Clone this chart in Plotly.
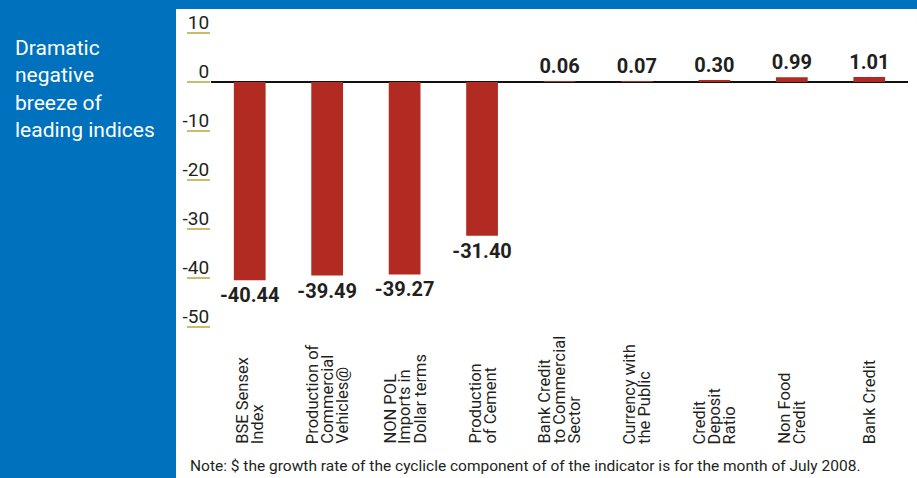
import plotly.graph_objects as go

categories = [
    "BSE Sensex<br>Index",
    "Production of<br>Commercial<br>Vehicles@",
    "NON POL<br>Imports in<br>Dollar terms",
    "Production<br>of Cement",
    "Bank Credit<br>to Commercial<br>Sector",
    "Currency with<br>the Public",
    "Credit<br>Deposit<br>Ratio",
    "Non Food<br>Credit",
    "Bank Credit",
]
values = [-40.44, -39.49, -39.27, -31.40, 0.06, 0.07, 0.30, 0.99, 1.01]
value_labels = ["-40.44", "-39.49", "-39.27", "-31.40", "0.06", "0.07", "0.30", "0.99", "1.01"]
y_ticks = [10, 0, -10, -20, -30, -40, -50]
title_text = "Dramatic<br>negative<br>breeze of<br>leading indices"
note_text = "Note: $ the growth rate of the cyclicle component of of the indicator is for the month of July 2008."

BLUE = "#0071BC"
RED = "#B22B22"
GOLD = "#CDBA6A"
DARK = "#231F20"
FONT = "Roboto, 'DejaVu Sans', sans-serif"

x_idx = list(range(len(categories)))

fig = go.Figure()
fig.add_trace(go.Bar(
    x=x_idx, y=values,
    marker=dict(color=RED, line=dict(width=0)),
    text=value_labels, textposition="outside", constraintext="none",
    textfont=dict(family=FONT, size=20, color=DARK, weight="bold"),
    cliponaxis=False, hoverinfo="skip",
))

annotations = []
# category labels, rotated, bottom aligned
line_gap = 15
for i, cat in enumerate(categories):
    lines = cat.split("<br>")
    n = len(lines)
    for j, ln in enumerate(lines):
        annotations.append(dict(
            x=i, xref="x", y=-0.321, yref="paper",
            text=ln, showarrow=False, textangle=-90,
            xanchor="center", yanchor="bottom",
            xshift=(j - (n - 1) / 2) * line_gap,
            font=dict(family=FONT, size=16.5, color=DARK),
        ))

annotations.append(dict(
    x=-0.2845, xref="paper", y=0.9506, yref="paper",
    text=title_text, showarrow=False, align="left",
    xanchor="left", yanchor="top",
    font=dict(family=FONT, size=21, color="white"),
))
annotations.append(dict(
    x=-0.033, xref="paper", y=-0.3827, yref="paper",
    text=note_text, showarrow=False, align="left",
    xanchor="left", yanchor="middle",
    font=dict(family=FONT, size=15.5, color=DARK),
))

fig.update_layout(
    width=917, height=478,
    margin=dict(l=211, r=9, t=18, b=136, pad=0),
    paper_bgcolor=BLUE, plot_bgcolor="rgba(0,0,0,0)",
    showlegend=False,
    bargap=0.59,
    annotations=annotations,
    shapes=[dict(type="rect", xref="paper", yref="paper",
                 x0=-0.05022, x1=1.01291, y0=-0.4198, y1=1.0278,
                 fillcolor="white", line=dict(width=0), layer="below")],
    xaxis=dict(
        range=[-0.5, len(categories) - 0.5],
        showticklabels=False, showgrid=False, zeroline=False,
        showline=False, ticks="",
    ),
    yaxis=dict(
        range=[-53.06, 13.06],
        tickvals=y_ticks, ticktext=[str(v) for v in y_ticks],
        ticks="outside", ticklen=23, tickwidth=2, tickcolor=GOLD,
        ticklabelstandoff=-26, ticklabelshift=-11,
        tickfont=dict(family=FONT, size=19, color=DARK),
        showgrid=False, showline=False,
        zeroline=True, zerolinecolor="#111111", zerolinewidth=2,
    ),
)

fig.write_html("out.html")
